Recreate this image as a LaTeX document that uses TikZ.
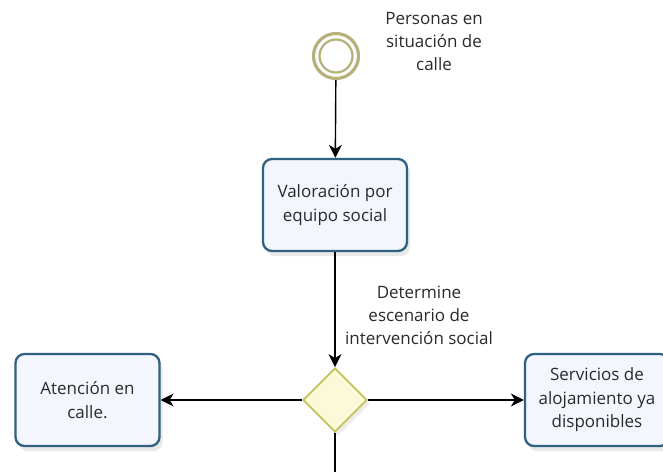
\documentclass[tikz,border=0pt]{standalone}
\usepackage{fontspec}
\setmainfont{Open Sans}
\usetikzlibrary{arrows.meta,shapes.geometric,shadows}
\definecolor{boxborder}{HTML}{2F6280}
\definecolor{boxfill}{HTML}{F3F6FC}
\definecolor{ringcol}{HTML}{B4B27A}
\definecolor{gwborder}{HTML}{BFC457}
\definecolor{gwfill}{HTML}{FAFAD8}
\definecolor{txt}{HTML}{2A2A2A}
\tikzset{
  task/.style={draw=boxborder, line width=2.3pt, fill=boxfill, rounded corners=9pt,
    minimum width=144pt, minimum height=92pt, align=center, text=txt,
    font=\fontsize{17}{23.5}\selectfont,
    drop shadow={opacity=0.18, shadow xshift=3pt, shadow yshift=-5pt}},
  gateway/.style={draw=gwborder, line width=1.8pt, fill=gwfill, diamond,
    minimum width=64pt, minimum height=64pt, inner sep=0pt,
    drop shadow={opacity=0.15, shadow xshift=3pt, shadow yshift=-4pt}},
  lbl/.style={align=center, text=txt, font=\fontsize{17}{23}\selectfont},
  flow/.style={draw=black, line width=1.4pt, -{Stealth[length=13pt,width=13pt,inset=4pt]}},
  plainflow/.style={draw=black, line width=1.4pt},
}
\begin{document}
\begin{tikzpicture}[x=1pt,y=-1pt]
\clip (0,0) rectangle (663,471);
\fill[white] (0,0) rectangle (663,471);
% start event
\node[circle, draw=ringcol, line width=3.2pt, fill=white, minimum size=45pt, inner sep=0pt] (start) at (336,56) {};
\node[circle, draw=ringcol, line width=2.2pt, minimum size=33pt, inner sep=0pt] (startin) at (336,56) {};
\node[lbl] (startlbl) at (434,42) {Personas en\\situación de\\calle};
% task
\node[task] (val) at (335,205) {Valoración por\\equipo social};
% gateway
\node[gateway] (gw) at (335,400) {};
\node[lbl] (gwlbl) at (419,315) {Determine\\escenario de\\intervención social};
% side tasks
\node[task] (calle) at (87.5,400) {Atención en\\calle.};
\node[task] (serv) at (597,400) {Servicios de\\alojamiento ya\\disponibles};
\coordinate (bottom) at (335,475);
% flows
\draw[flow] (start) -- (val);
\draw[flow] (val) -- (gw.north);
\draw[flow] (gw.west) -- (calle.east);
\draw[flow] (gw.east) -- (serv.west);
\draw[plainflow] (gw.south) -- (bottom);
\end{tikzpicture}
\end{document}
